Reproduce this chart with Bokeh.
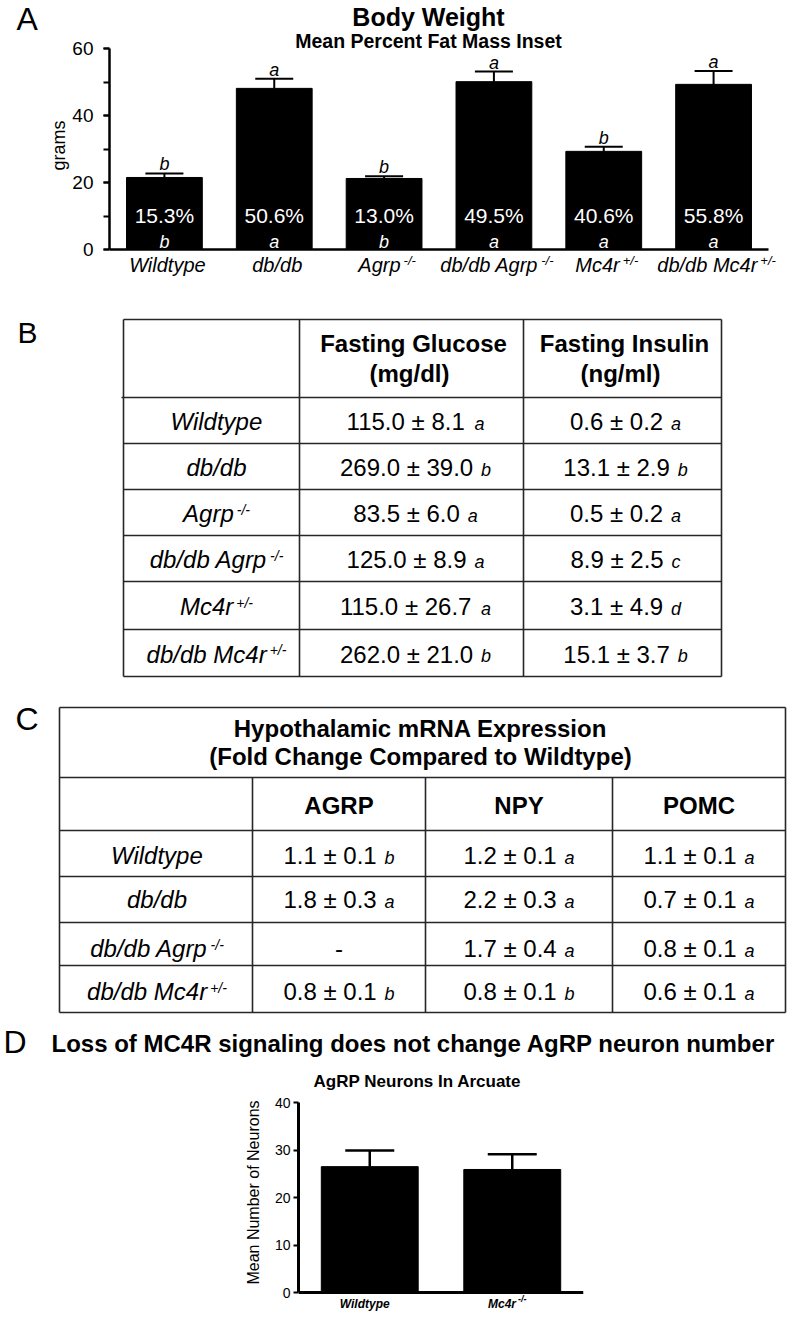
from bokeh.plotting import figure
from bokeh.models import (ColumnDataSource, Range1d, Whisker, TeeHead, LabelSet, Label,
                          SingleIntervalTicker)
from bokeh.layouts import row
from bokeh.embed import file_html
from bokeh.resources import INLINE
from bokeh.core.properties import value

FONT = "Liberation Sans"

# ---------------- data ----------------
# Panel A: body weight (grams) with mean percent fat mass inset
a_title = "Body Weight"
a_subtitle = "Mean Percent Fat Mass Inset"
a_groups = ["Wildtype", "db/db", "Agrp", "db/db Agrp", "Mc4r", "db/db Mc4r"]
a_sups = ["", "", "-/-", "-/-", "+/-", "+/-"]
a_weight = [21.5, 48.1, 21.2, 50.1, 29.3, 49.3]
a_weight_sem = [1.2, 2.9, 0.7, 3.0, 1.4, 4.0]
a_weight_letters = ["b", "a", "b", "a", "b", "a"]
a_fat = ["15.3%", "50.6%", "13.0%", "49.5%", "40.6%", "55.8%"]
a_fat_letters = ["b", "a", "b", "a", "a", "a"]

# Panel B: fasting glucose / insulin
b_headers = [["Fasting Glucose", "(mg/dl)"], ["Fasting Insulin", "(ng/ml)"]]
b_groups = ["Wildtype", "db/db", "Agrp", "db/db Agrp", "Mc4r", "db/db Mc4r"]
b_sups = ["", "", "-/-", "-/-", "+/-", "+/-"]
b_glucose = [115.0, 269.0, 83.5, 125.0, 115.0, 262.0]
b_glucose_sem = [8.1, 39.0, 6.0, 8.9, 26.7, 21.0]
b_glucose_letters = ["a", "b", "a", "a", "a", "b"]
b_insulin = [0.6, 13.1, 0.5, 8.9, 3.1, 15.1]
b_insulin_sem = [0.2, 2.9, 0.2, 2.5, 4.9, 3.7]
b_insulin_letters = ["a", "b", "a", "c", "d", "b"]

# Panel C: hypothalamic mRNA expression
c_title = ["Hypothalamic mRNA Expression", "(Fold Change Compared to Wildtype)"]
c_groups = ["Wildtype", "db/db", "db/db Agrp", "db/db Mc4r"]
c_sups = ["", "", "-/-", "+/-"]
c_genes = ["AGRP", "NPY", "POMC"]
c_agrp = [1.1, 1.8, None, 0.8]
c_agrp_sem = [0.1, 0.3, None, 0.1]
c_agrp_letters = ["b", "a", "", "b"]
c_npy = [1.2, 2.2, 1.7, 0.8]
c_npy_sem = [0.1, 0.3, 0.4, 0.1]
c_npy_letters = ["a", "a", "a", "b"]
c_pomc = [1.1, 0.7, 0.8, 0.6]
c_pomc_sem = [0.1, 0.1, 0.1, 0.1]
c_pomc_letters = ["a", "a", "a", "a"]

# Panel D: AgRP neuron counts
d_title = "Loss of MC4R signaling does not change AgRP neuron number"
d_subtitle = "AgRP Neurons In Arcuate"
d_groups = ["Wildtype", "Mc4r"]
d_sups = ["", "-/-"]
d_neurons = [26.5, 25.9]
d_neurons_sem = [3.4, 3.2]

# ---------------- helpers ----------------
REG = {' ': 278, '%': 889, '(': 333, ')': 333, '+': 584, '-': 333, '.': 278, '/': 278,
       '±': 584, 'A': 667, 'C': 722, 'G': 778, 'M': 833, 'N': 722, 'O': 778, 'P': 667,
       'R': 722, 'W': 944, 'Y': 667, 'a': 556, 'b': 556, 'c': 500, 'd': 556, 'e': 556,
       'g': 556, 'i': 222, 'l': 222, 'p': 556, 'r': 333, 't': 278, 'y': 500}
BOLD = {' ': 278, '-': 333, '/': 278, 'M': 833, 'W': 944, 'c': 556, 'd': 611, 'e': 556,
        'i': 278, 'l': 278, 'p': 611, 'r': 389, 't': 333, 'y': 556}


def tw(s, size, bold=False):
    t = BOLD if bold else REG
    return sum(t.get(ch, 556) for ch in s) / 1000.0 * size


def fmt(m, s):
    return "-" if m is None else f"{m:.1f} ± {s:.1f}"


PAGE_W = 800
COMMON = dict(output_backend="svg", toolbar_location=None, outline_line_color=None)


def item(X, Ycap, text, size, style="normal", align="left"):
    return (X, Ycap, text, size, style, align)


def group_items(cx, cy, main, msize, mstyle, extra, esize, estyle, gap, dy):
    bold = "bold" in mstyle
    w1 = tw(main, msize, bold)
    w2 = tw(extra, esize, bold) if extra else 0
    total = w1 + (gap + w2 if extra else 0)
    x0 = cx - total / 2
    out = [item(x0, cy, main, msize, mstyle, "left")]
    if extra:
        out.append(item(x0 + w1 + gap, cy + dy, extra, esize, estyle, "left"))
    return out


def pixel_figure(top, height, items, segs=None, width=PAGE_W):
    """A figure whose data units are page pixels (y downwards)."""
    p = figure(width=width, height=height, x_range=Range1d(0, width),
               y_range=Range1d(height, 0), x_axis_location=None, y_axis_location=None,
               min_border=0, **COMMON)
    p.grid.visible = False
    if segs:
        p.segment(x0=[s[0] for s in segs], y0=[s[1] - top for s in segs],
                  x1=[s[2] for s in segs], y1=[s[3] - top for s in segs],
                  line_color="#262626", line_width=1.6)
    src = ColumnDataSource(dict(
        x=[it[0] for it in items],
        y=[it[1] - top for it in items],
        text=[it[2] for it in items],
        size=[f"{it[3]}px" for it in items],
        style=[it[4] for it in items],
        align=[it[5] for it in items]))
    p.text(x="x", y="y", text="text", source=src, text_font=value(FONT),
           text_font_size="size", text_font_style="style", text_align="align",
           text_baseline="middle", text_color="black")
    return p


def style_yaxis(ax, label, label_size, tick_size, standoff, label_standoff, tick_out, lw):
    ax.axis_label = label
    ax.axis_label_text_font = FONT
    ax.axis_label_text_font_size = label_size
    ax.axis_label_text_font_style = "normal"
    ax.axis_label_text_color = "black"
    ax.axis_label_standoff = label_standoff
    ax.major_label_text_font = FONT
    ax.major_label_text_font_size = tick_size
    ax.major_label_text_color = "black"
    ax.major_label_standoff = standoff
    ax.major_tick_out = tick_out
    ax.major_tick_in = 0
    ax.minor_tick_out = tick_out
    ax.minor_tick_in = 0
    ax.axis_line_width = lw
    ax.axis_line_color = "black"
    ax.major_tick_line_color = "black"
    ax.minor_tick_line_color = "black"
    ax.major_tick_line_width = 2
    ax.minor_tick_line_width = 2


# ================= Panel A =================
A_TOP, A_BOT = 0, 290
A_SPLIT = 40                         # width of the strip holding the panel letter
aLeft = pixel_figure(A_TOP, A_BOT - A_TOP, [item(16, 18.5, "A", 32)], width=A_SPLIT)

A_AX_X, A_END_X = 109, 768          # y-axis position, end of the baseline
A_Y0, A_Y60 = 249, 48               # pixel rows of 0 and 60 g
cat_w = (A_END_X - A_AX_X) / len(a_groups)
ppu = (A_Y0 - A_Y60) / 60.0
a_x = [i + 0.5 for i in range(len(a_groups))]


def ax_(X):
    return (X - A_AX_X) / cat_w


def ay_(Y):
    return (A_Y0 - Y) / ppu


pA = figure(width=PAGE_W - A_SPLIT, height=A_BOT - A_TOP,
            x_range=Range1d(0, ax_(PAGE_W)), y_range=Range1d(ay_(A_BOT), ay_(A_TOP)),
            min_border_left=A_AX_X - A_SPLIT, min_border_right=0, min_border_top=0,
            min_border_bottom=0, x_axis_location=None, **COMMON)
pA.grid.visible = False
srcA = ColumnDataSource(dict(
    x=a_x, w=a_weight, up=[m + s for m, s in zip(a_weight, a_weight_sem)],
    wl=a_weight_letters, fat=a_fat, fl=a_fat_letters))
pA.vbar(x="x", top="w", width=0.69, source=srcA, fill_color="black", line_color="black")
pA.add_layout(Whisker(base="x", upper="up", lower="w", source=srcA, dimension="height",
                      line_color="black", line_width=2, lower_head=None,
                      upper_head=TeeHead(size=38, line_width=2, line_color="black")))
pA.segment(x0=[0], y0=[0], x1=[len(a_groups)], y1=[0], line_color="black", line_width=2.5)
ya = pA.yaxis[0]
ya.ticker = SingleIntervalTicker(interval=20, num_minor_ticks=2)
ya.bounds = (0, 60)
style_yaxis(ya, "grams", "18px", "19px", 10, 0, 6, 2.5)

pA.add_layout(LabelSet(x="x", y="up", text="wl", y_offset=3, source=srcA,
                       text_font=value(FONT), text_font_size="18px", text_font_style="italic",
                       text_color="black", text_align="center", text_baseline="alphabetic"))
pA.add_layout(LabelSet(x="x", y=0, text="fat", y_offset=27, source=srcA,
                       text_font=value(FONT), text_font_size="21px", text_color="white",
                       text_align="center", text_baseline="alphabetic"))
pA.add_layout(LabelSet(x="x", y=0, text="fl", y_offset=2, source=srcA,
                       text_font=value(FONT), text_font_size="18px", text_font_style="italic",
                       text_color="white", text_align="center", text_baseline="alphabetic"))

# category labels (italic) with small superscript genotype marks
A_LBL, A_SUP, A_GAP, A_SHIFT = 20, 13, 3, 3
main_off, sup_x, sup_t, sup_off = [], [], [], []
for i, (g, s) in enumerate(zip(a_groups, a_sups)):
    w1 = tw(g, A_LBL)
    w2 = tw(s, A_SUP) if s else 0
    tot = w1 + (A_GAP + w2 if s else 0)
    main_off.append(-tot / 2 + w1 / 2 + A_SHIFT)
    if s:
        sup_x.append(a_x[i]); sup_t.append(s)
        sup_off.append(-tot / 2 + w1 + A_GAP + A_SHIFT)
pA.add_layout(LabelSet(x="x", y=0, text="g", x_offset="xo", y_offset=-(264.5 - A_Y0),
                       source=ColumnDataSource(dict(x=a_x, g=a_groups, xo=main_off)),
                       text_font=value(FONT), text_font_size=f"{A_LBL}px",
                       text_font_style="italic", text_color="black", text_align="center",
                       text_baseline="middle"))
pA.add_layout(LabelSet(x="x", y=0, text="t", x_offset="xo", y_offset=-(260 - A_Y0),
                       source=ColumnDataSource(dict(x=sup_x, t=sup_t, xo=sup_off)),
                       text_font=value(FONT), text_font_size=f"{A_SUP}px",
                       text_font_style="italic", text_color="black", text_align="left",
                       text_baseline="middle"))
pA.add_layout(Label(x=ax_(428), y=ay_(16.5), text=a_title, text_font=FONT,
                    text_font_size="25px", text_font_style="bold", text_color="black",
                    text_align="center", text_baseline="middle"))
pA.add_layout(Label(x=ax_(428), y=ay_(40), text=a_subtitle, text_font=FONT,
                    text_font_size="19.5px", text_font_style="bold", text_color="black",
                    text_align="center", text_baseline="middle"))
rowA = row(aLeft, pA)

# ================= Tables (B and C) =================
T_TOP, T_BOT = A_BOT, 1018
VAL_SIZE, LET_SIZE = 24, 18
LET_DY = 0.35 * (VAL_SIZE - LET_SIZE)
items, segs = [], []

TB_X = [123, 299, 523, 721]
TB_Y = [319, 397, 443, 489, 535, 581, 629, 676]
for k, y in enumerate(TB_Y):
    segs.append((TB_X[0] - (2 if k == 1 else 0), y, TB_X[-1], y))
for x in TB_X:
    segs.append((x, TB_Y[0], x, TB_Y[-1]))
items.append(item(17, 332, "B", 30))
for j, (h1, h2) in enumerate(b_headers):
    cx = (TB_X[j + 1] + TB_X[j + 2]) / 2 + 2
    items.append(item(cx, 342.5, h1, 24, "bold", "center"))
    items.append(item(cx - 4, 373, h2, 24, "bold", "center"))
for i, g in enumerate(b_groups):
    cy = (TB_Y[i + 1] + TB_Y[i + 2]) / 2 + 1
    items += group_items((TB_X[0] + TB_X[1]) / 2 + 5, cy, g, 24, "italic",
                         b_sups[i], 14, "italic", 3, -4)
    items += group_items((TB_X[1] + TB_X[2]) / 2 + 4, cy, fmt(b_glucose[i], b_glucose_sem[i]),
                         VAL_SIZE, "normal", b_glucose_letters[i], LET_SIZE, "italic", 7, LET_DY)
    items += group_items((TB_X[2] + TB_X[3]) / 2 + 3, cy, fmt(b_insulin[i], b_insulin_sem[i]),
                         VAL_SIZE, "normal", b_insulin_letters[i], LET_SIZE, "italic", 7, LET_DY)

TC_X = [59, 252, 425, 612, 785]
TC_Y = [707, 777, 830, 876, 922, 965, 1012]
TC_TEXT_Y = [855, 899, 948, 991]
for y in TC_Y:
    segs.append((TC_X[0], y, TC_X[-1], y))
for x in (TC_X[0], TC_X[-1]):
    segs.append((x, TC_Y[0], x, TC_Y[-1]))
for x in TC_X[1:-1]:
    segs.append((x, TC_Y[1], x, TC_Y[-1]))
items.append(item(15, 718, "C", 32))
items.append(item(420, 728, c_title[0], 24, "bold", "center"))
items.append(item(420, 755.5, c_title[1], 24, "bold", "center"))
for j, gname in enumerate(c_genes):
    items.append(item((TC_X[j + 1] + TC_X[j + 2]) / 2, 805, gname, 24, "bold", "center"))
c_cols = [(c_agrp, c_agrp_sem, c_agrp_letters), (c_npy, c_npy_sem, c_npy_letters),
          (c_pomc, c_pomc_sem, c_pomc_letters)]
for i, g in enumerate(c_groups):
    cy = TC_TEXT_Y[i]
    items += group_items((TC_X[0] + TC_X[1]) / 2 + 1, cy, g, 24, "italic",
                         c_sups[i], 14, "italic", 3, -4)
    for j, (m, s, l) in enumerate(c_cols):
        items += group_items((TC_X[j + 1] + TC_X[j + 2]) / 2, cy, fmt(m[i], s[i]), VAL_SIZE,
                             "normal", l[i], LET_SIZE, "italic", 7, LET_DY)
pT = pixel_figure(T_TOP, T_BOT - T_TOP, items, segs)

# ================= Panel D header =================
HD_TOP, HD_H = T_BOT, 50
hdrD = pixel_figure(HD_TOP, HD_H, [
    item(3, 1041, "D", 32),
    item(51, 1043, d_title, 24, "bold", "left"),
])

# ================= Panel D chart =================
D_TOP, D_BOT = HD_TOP + HD_H, 1316
D_AX_X, D_END_X = 298, 583
D_Y0, D_Y40 = 1292, 1102
d_cat_w = (D_END_X - D_AX_X) / len(d_groups)
d_ppu = (D_Y0 - D_Y40) / 40.0
d_x = [i + 0.5 for i in range(len(d_groups))]


def dx_(X):
    return (X - D_AX_X) / d_cat_w


def dy_(Y):
    return (D_Y0 - Y) / d_ppu


pD = figure(width=PAGE_W, height=D_BOT - D_TOP,
            x_range=Range1d(0, len(d_groups)), y_range=Range1d(dy_(D_BOT), dy_(D_TOP)),
            min_border_left=D_AX_X, min_border_right=PAGE_W - D_END_X, min_border_top=0,
            min_border_bottom=0, x_axis_location=None, **COMMON)
pD.grid.visible = False
srcD = ColumnDataSource(dict(x=d_x, n=d_neurons,
                             up=[m + s for m, s in zip(d_neurons, d_neurons_sem)]))
pD.vbar(x="x", top="n", width=0.68, source=srcD, fill_color="black", line_color="black")
pD.add_layout(Whisker(base="x", upper="up", lower="n", source=srcD, dimension="height",
                      line_color="black", line_width=2.5, lower_head=None,
                      upper_head=TeeHead(size=49, line_width=2.5, line_color="black")))
pD.segment(x0=[0], y0=[0], x1=[len(d_groups)], y1=[0], line_color="black", line_width=3)
yd = pD.yaxis[0]
yd.ticker = SingleIntervalTicker(interval=10, num_minor_ticks=0)
yd.bounds = (0, 40)
style_yaxis(yd, "Mean Number of Neurons", "16px", "14px", 3, 10, 5, 3)
yd.minor_tick_line_color = None

D_LBL, D_SUP, D_GAP, D_SHIFT = 12, 9, 2, -5
dmain_off, dsup_x, dsup_t, dsup_off = [], [], [], []
for i, (g, s) in enumerate(zip(d_groups, d_sups)):
    w1 = tw(g, D_LBL, True)
    w2 = tw(s, D_SUP, True) if s else 0
    tot = w1 + (D_GAP + w2 if s else 0)
    dmain_off.append(-tot / 2 + w1 / 2 + D_SHIFT)
    if s:
        dsup_x.append(d_x[i]); dsup_t.append(s)
        dsup_off.append(-tot / 2 + w1 + D_GAP + D_SHIFT)
pD.add_layout(LabelSet(x="x", y=0, text="g", x_offset="xo", y_offset=-(1303 - D_Y0),
                       source=ColumnDataSource(dict(x=d_x, g=d_groups, xo=dmain_off)),
                       text_font=value(FONT), text_font_size=f"{D_LBL}px",
                       text_font_style="bold italic", text_color="black", text_align="center",
                       text_baseline="middle"))
pD.add_layout(LabelSet(x="x", y=0, text="t", x_offset="xo", y_offset=-(1298.5 - D_Y0),
                       source=ColumnDataSource(dict(x=dsup_x, t=dsup_t, xo=dsup_off)),
                       text_font=value(FONT), text_font_size=f"{D_SUP}px",
                       text_font_style="bold italic", text_color="black", text_align="left",
                       text_baseline="middle"))
pD.add_layout(Label(x=dx_(417), y=dy_(1081), text=d_subtitle, text_font=FONT,
                    text_font_size="17px", text_font_style="bold", text_color="black",
                    text_align="center", text_baseline="middle"))

open("out.html", "w").write(file_html([rowA, pT, hdrD, pD], INLINE))
